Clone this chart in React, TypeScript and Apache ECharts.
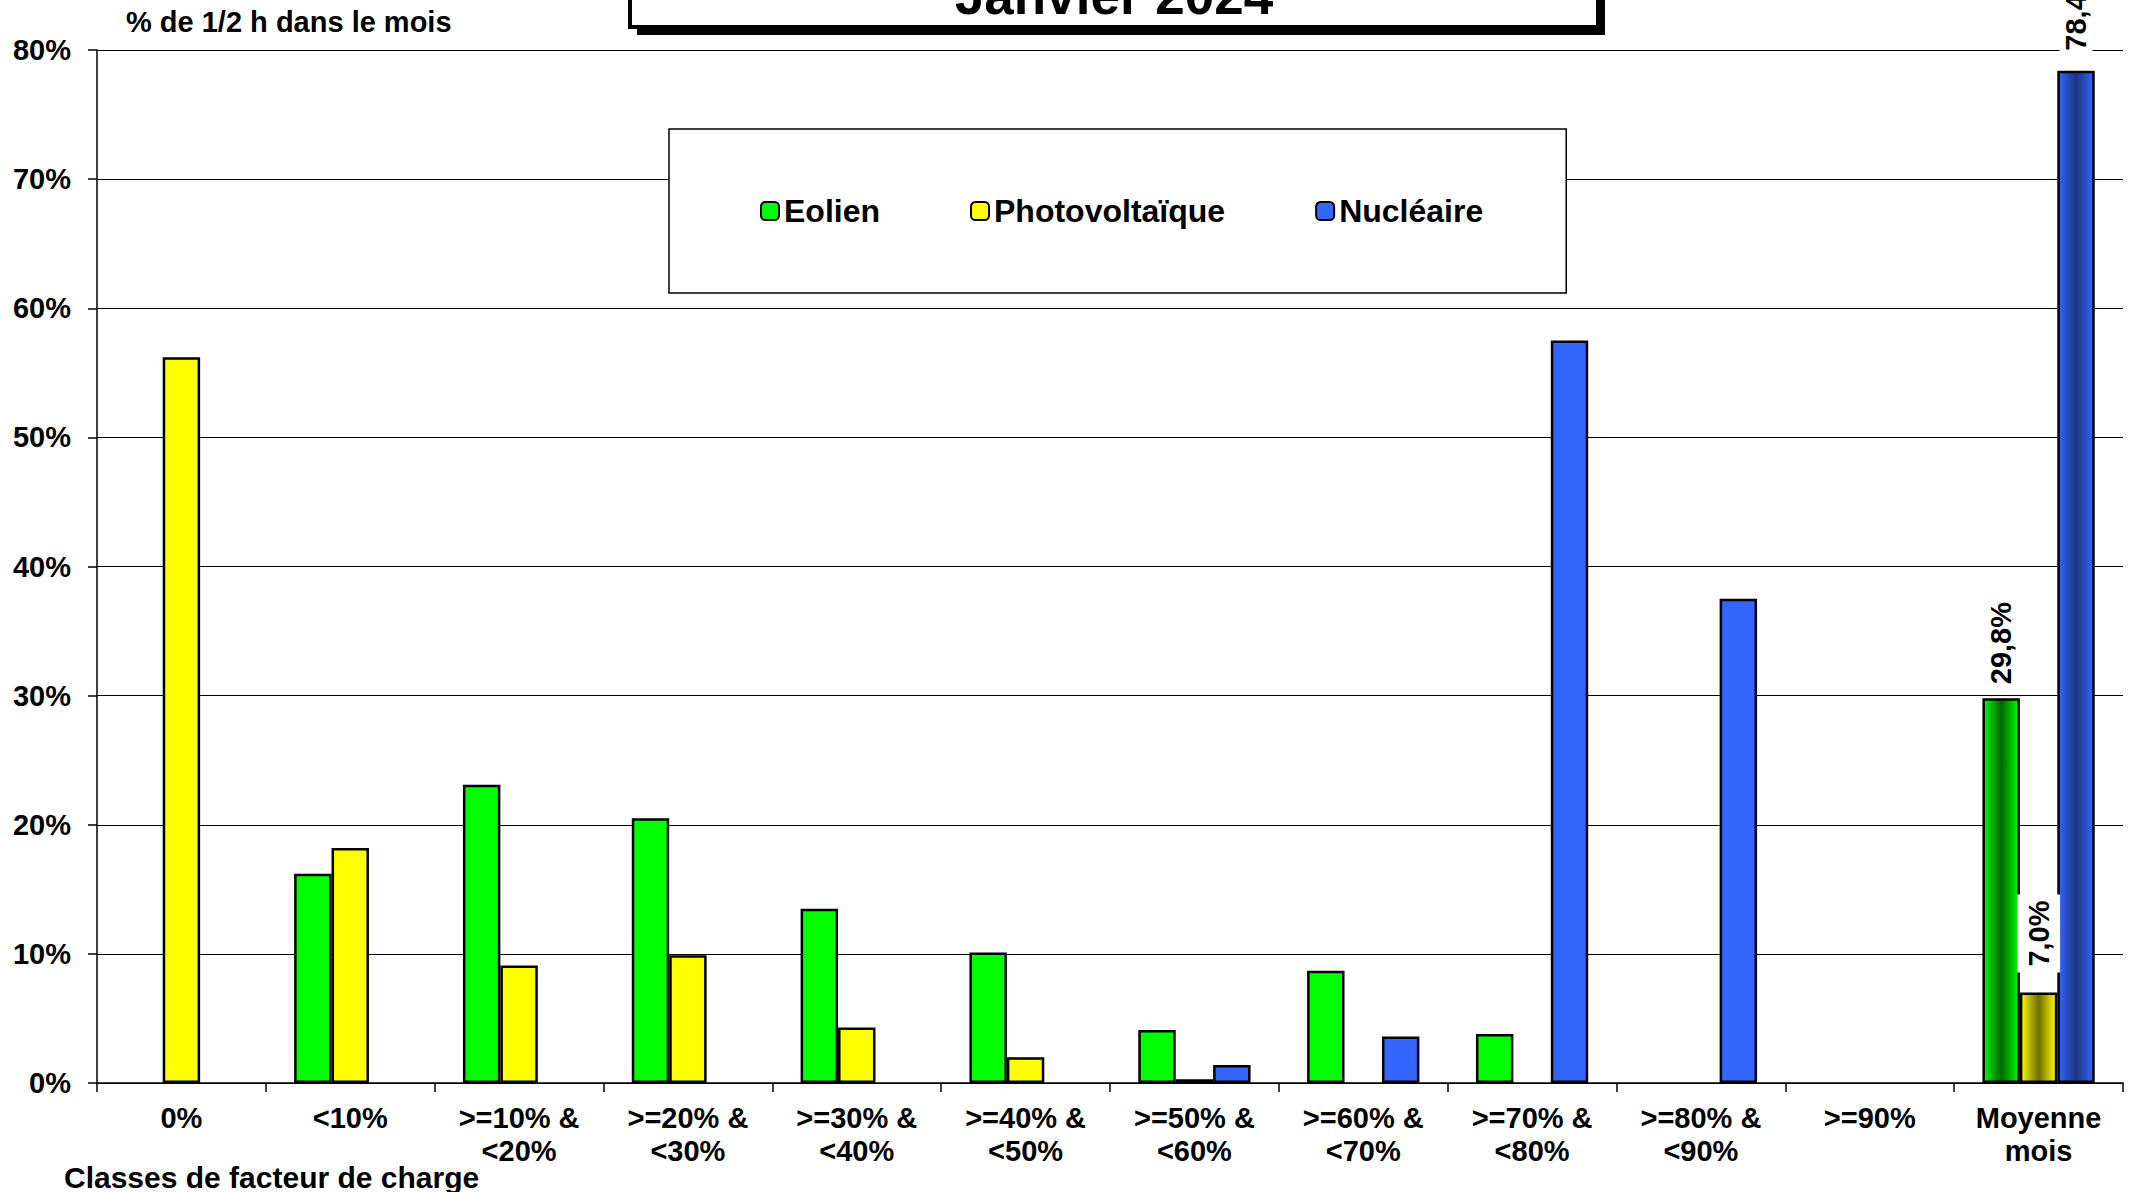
import React, { useEffect, useRef } from "react";
import * as echarts from "echarts";

const categories = [
  "0%",
  "<10%",
  ">=10% &\n<20%",
  ">=20% &\n<30%",
  ">=30% &\n<40%",
  ">=40% &\n<50%",
  ">=50% &\n<60%",
  ">=60% &\n<70%",
  ">=70% &\n<80%",
  ">=80% &\n<90%",
  ">=90%",
  "Moyenne\nmois",
];
const seriesNames = ["Eolien", "Photovoltaïque", "Nucléaire"];
const eolien = [0, 16.2, 23.1, 20.5, 13.5, 10.1, 4.1, 8.7, 3.8, 0, 0, 29.8];
const photovoltaique = [56.2, 18.2, 9.1, 9.9, 4.3, 2.0, 0.3, 0, 0, 0, 0, 7.0];
const nucleaire = [0, 0, 0, 0, 0, 0, 1.4, 3.6, 57.5, 37.5, 0, 78.4];
const yTicks = { min: 0, max: 80, interval: 10 };
const titleText = "Janvier 2024";
const yAxisName = "% de 1/2 h dans le mois";
const xAxisName = "Classes de facteur de charge";

const FONT = "'Liberation Sans', Arial, sans-serif";
const colors = ["#00ff00", "#ffff00", "#3366ff"];
const darkCenters = ["#006400", "#6e6e00", "#1c3580"];
const labelDistances = [10, 20, 14];
const labelPads = [
  [2, 4, 2, 4],
  [7, 6, 7, 6],
  [2, 6, 2, 6],
];

function fmt(v: number) {
  return v.toFixed(1).replace(".", ",") + "%";
}

function buildSeries(name: string, values: number[], idx: number) {
  const last = values.length - 1;
  return {
    name,
    type: "bar",
    barGap: "0%",
    barCategoryGap: "33.5%",
    itemStyle: { color: colors[idx], borderColor: "#000", borderWidth: 2.5 },
    data: values.map((v, i) => {
      if (v === 0) return null;
      if (i !== last) return v;
      return {
        value: v,
        itemStyle: {
          color: new echarts.graphic.LinearGradient(0, 0, 1, 0, [
            { offset: 0, color: colors[idx] },
            { offset: 0.5, color: darkCenters[idx] },
            { offset: 1, color: colors[idx] },
          ]),
          borderColor: "#000",
          borderWidth: 2.5,
        },
        label: {
          show: true,
          position: "top",
          rotate: 90,
          align: "left",
          verticalAlign: "middle",
          distance: labelDistances[idx],
          formatter: fmt(v),
          fontFamily: FONT,
          fontWeight: "bold",
          fontSize: 29,
          color: "#000",
          backgroundColor: "#fff",
          padding: labelPads[idx],
        },
      };
    }),
  };
}

export default function App() {
  const ref = useRef<HTMLDivElement>(null);
  useEffect(() => {
    if (!ref.current) return;
    const chart = echarts.init(ref.current, null, { renderer: "svg" });
    chart.setOption({
      animation: false,
      backgroundColor: "#fff",
      grid: { left: 97, right: 10, top: 50, bottom: 109, containLabel: false },
      legend: {
        data: seriesNames,
        left: 669,
        top: 129,
        orient: "horizontal",
        padding: [66, 83, 66, 91],
        backgroundColor: "#fff",
        borderColor: "#000",
        borderWidth: 1.5,
        itemWidth: 18,
        itemHeight: 18,
        itemGap: 90,
        textStyle: { fontFamily: FONT, fontWeight: "bold", fontSize: 32, color: "#000" },
        itemStyle: { borderColor: "#000", borderWidth: 2 },
      },
      xAxis: {
        type: "category",
        data: categories,
        axisLine: { lineStyle: { color: "#000", width: 1.5 } },
        axisTick: { show: true, length: 9, lineStyle: { color: "#000", width: 1.5 } },
        axisLabel: {
          interval: 0,
          margin: 18,
          fontFamily: FONT,
          fontWeight: "bold",
          fontSize: 29,
          lineHeight: 33,
          color: "#000",
        },
      },
      yAxis: {
        type: "value",
        min: yTicks.min,
        max: yTicks.max,
        interval: yTicks.interval,
        axisLine: { show: true, lineStyle: { color: "#000", width: 1.5 } },
        axisTick: { show: true, length: 9, lineStyle: { color: "#000", width: 1.5 } },
        splitLine: { lineStyle: { color: "#000", width: 1.2 } },
        axisLabel: {
          formatter: "{value}%",
          margin: 26,
          fontFamily: FONT,
          fontWeight: "bold",
          fontSize: 29,
          color: "#000",
        },
      },
      graphic: [
        {
          type: "rect",
          z: 10,
          shape: { x: 637, y: -20, width: 968, height: 55 },
          style: { fill: "#000" },
        },
        {
          type: "rect",
          z: 11,
          shape: { x: 630, y: -20, width: 968, height: 47 },
          style: { fill: "#fff", stroke: "#000", lineWidth: 4 },
        },
        {
          type: "text",
          z: 12,
          x: 1114,
          y: -5,
          style: {
            text: titleText,
            fontFamily: FONT,
            fontWeight: "bold",
            fontSize: 53,
            fill: "#000",
            align: "center",
            verticalAlign: "middle",
          },
        },
        {
          type: "text",
          x: 126,
          y: 22,
          style: {
            text: yAxisName,
            fontFamily: FONT,
            fontWeight: "bold",
            fontSize: 29,
            fill: "#000",
            align: "left",
            verticalAlign: "middle",
          },
        },
        {
          type: "text",
          x: 64,
          y: 1177,
          style: {
            text: xAxisName,
            fontFamily: FONT,
            fontWeight: "bold",
            fontSize: 30,
            fill: "#000",
            align: "left",
            verticalAlign: "middle",
          },
        },
      ],
      series: [
        buildSeries(seriesNames[0], eolien, 0),
        buildSeries(seriesNames[1], photovoltaique, 1),
        buildSeries(seriesNames[2], nucleaire, 2),
      ],
    });
    return () => chart.dispose();
  }, []);
  return (
    <div
      ref={ref}
      style={{ position: "fixed", left: 0, top: 0, width: 2133, height: 1192 }}
    />
  );
}
